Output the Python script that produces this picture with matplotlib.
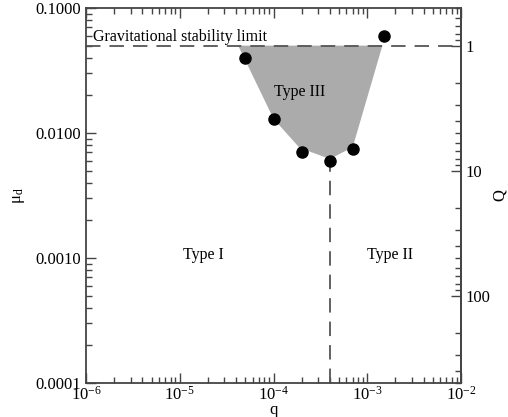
import numpy as np
import matplotlib.pyplot as plt
from matplotlib.ticker import FixedLocator, FuncFormatter, LogLocator, NullFormatter

plt.rcParams['font.family'] = 'Liberation Serif'
plt.rcParams['mathtext.fontset'] = 'custom'
plt.rcParams['mathtext.rm'] = 'Liberation Serif'
plt.rcParams['mathtext.it'] = 'Liberation Serif:italic'

# simulation results: planet mass ratio q vs disc mass mu_d
q_pts = [1.5e-3, 5e-5, 1e-4, 2e-4, 4e-4, 7e-4]
mu_pts = [0.06, 0.04, 0.013, 0.007, 0.006, 0.0075]

# type III migration region
region_q = [4.2e-5, 1e-4, 1.9e-4, 4e-4, 7e-4, 1.45e-3]
region_mu = [0.05, 0.013, 0.0076, 0.0062, 0.0077, 0.05]

mu_limit = 0.05      # Q = 1
q_split = 4e-4       # type I / type II boundary
mu_split_top = 0.006

edge = '#444444'
fs = 12

fig = plt.figure(figsize=(5.08, 4.17), dpi=100)
ax = fig.add_axes([0.1693, 0.0815, 0.7382, 0.8993])
ax.set_xscale('log')
ax.set_yscale('log')
ax.set_xlim(1e-6, 1e-2)
ax.set_ylim(1e-4, 1e-1)

ax.fill(region_q, region_mu, color='#ababab', lw=0, zorder=1)
ax.axhline(mu_limit, color='#555555', lw=1.3, dashes=(8, 5), zorder=2)
ax.plot([q_split, q_split], [1e-4, mu_split_top], color='#555555', lw=1.3,
        dashes=(8, 5), zorder=2)
ax.plot(q_pts, mu_pts, 'o', color='black', ms=8, zorder=3)

ax.text(1.18e-6, 0.0585, 'Gravitational stability limit', fontsize=11.5,
        va='center', ha='left')
ax.text(1.92e-4, 0.0214, 'Type III', fontsize=11.5, ha='center', va='center')
ax.text(1.77e-5, 0.00106, 'Type I', fontsize=11.5, ha='center', va='center')
ax.text(1.75e-3, 0.00106, 'Type II', fontsize=11.5, ha='center', va='center')

for s in ax.spines.values():
    s.set_color(edge)
    s.set_linewidth(1.3)

ax.xaxis.set_major_locator(LogLocator(base=10, numticks=10))
ax.xaxis.set_minor_locator(LogLocator(base=10, subs=np.arange(2, 10), numticks=10))
ax.xaxis.set_minor_formatter(NullFormatter())
ax.xaxis.set_major_formatter(FuncFormatter(lambda v, p: r'$10^{%d}$' % round(np.log10(v))))
ax.yaxis.set_major_locator(FixedLocator([1e-4, 1e-3, 1e-2, 1e-1]))
ax.yaxis.set_minor_locator(LogLocator(base=10, subs=np.arange(2, 10), numticks=10))
ax.yaxis.set_minor_formatter(NullFormatter())
ax.yaxis.set_major_formatter(FuncFormatter(lambda v, p: '%.4f' % v))

ax.tick_params(which='both', direction='in', color=edge, labelsize=fs,
               top=True, right=False)
ax.tick_params(which='major', length=7, width=1.0)
ax.tick_params(which='minor', length=4, width=1.0)
ax.tick_params(axis='x', pad=2)

# Toomre Q on the right, Q = 1 at the stability limit
qax = ax.secondary_yaxis('right', functions=(lambda m: mu_limit / m,
                                              lambda Q: mu_limit / Q))
qax.yaxis.set_major_locator(FixedLocator([1, 10, 100]))
qax.yaxis.set_minor_locator(LogLocator(base=10, subs=np.arange(2, 10), numticks=10))
qax.yaxis.set_minor_formatter(NullFormatter())
qax.yaxis.set_major_formatter(FuncFormatter(lambda v, p: '%d' % round(v)))
qax.tick_params(which='both', direction='in', color=edge, labelsize=fs)
qax.tick_params(which='major', length=7, width=1.0)
qax.tick_params(which='minor', length=4, width=1.0)
qax.spines['right'].set_color(edge)
qax.spines['right'].set_linewidth(1.3)
qax.set_ylabel('Q', fontsize=fs, labelpad=1)

ax.set_xlabel('q', fontsize=fs, labelpad=-1.5)
ax.set_ylabel('μ$_{\\rm d}$', fontsize=fs, labelpad=6)

fig.savefig('out.png', dpi=100)
